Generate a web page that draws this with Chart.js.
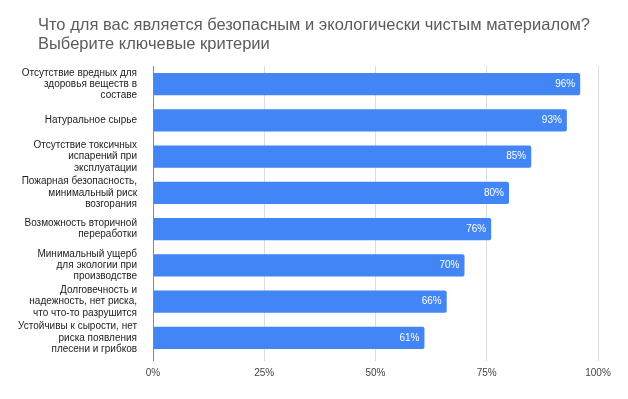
<!DOCTYPE html>
<html>
<head>
<meta charset="utf-8">
<script src="https://cdn.jsdelivr.net/npm/chart.js@4/dist/chart.umd.min.js"></script>
<style>
  html, body { margin: 0; padding: 0; background: #fff; }
  #wrap { width: 628px; height: 399px; }
</style>
</head>
<body>
<div id="wrap"><canvas id="chart"></canvas></div>
<script>
const titleLines = [
  'Что для вас является безопасным и экологически чистым материалом?',
  'Выберите ключевые критерии'
];
const categories = [
  ['Отсутствие вредных для', 'здоровья веществ в', 'составе'],
  ['Натуральное сырье'],
  ['Отсутствие токсичных', 'испарений при', 'эксплуатации'],
  ['Пожарная безопасность,', 'минимальный риск', 'возгорания'],
  ['Возможность вторичной', 'переработки'],
  ['Минимальный ущерб', 'для экологии при', 'производстве'],
  ['Долговечность и', 'надежность, нет риска,', 'что что-то разрушится'],
  ['Устойчивы к сырости, нет', 'риска появления', 'плесени и грибков']
];
const values = [96, 93, 85, 80, 76, 70, 66, 61];
const xTicks = [0, 25, 50, 75, 100];

const FONT = 'Arial, "Liberation Sans", sans-serif';

// title drawn at a fixed left inset, independent of the axis padding
const leftTitle = {
  id: 'leftTitle',
  afterDraw(chart) {
    const ctx = chart.ctx;
    ctx.save();
    ctx.font = '16.5px ' + FONT;
    ctx.fillStyle = '#5b5b5b';
    ctx.textAlign = 'left';
    ctx.textBaseline = 'alphabetic';
    titleLines.forEach((line, i) => ctx.fillText(line, 38, 30 + i * 18.5));
    ctx.restore();
  }
};

// value labels inside the bar end
const barLabels = {
  id: 'barLabels',
  afterDatasetsDraw(chart) {
    const ctx = chart.ctx;
    const meta = chart.getDatasetMeta(0);
    ctx.save();
    ctx.font = '10px ' + FONT;
    ctx.fillStyle = '#ffffff';
    ctx.textAlign = 'right';
    ctx.textBaseline = 'middle';
    meta.data.forEach((bar, i) => {
      ctx.fillText(values[i] + '%', bar.x - 5, bar.y);
    });
    ctx.restore();
  }
};

new Chart(document.getElementById('chart'), {
  type: 'bar',
  data: {
    labels: categories,
    datasets: [{
      data: values,
      backgroundColor: '#4285f4',
      borderRadius: 2,
      borderSkipped: 'start',
      barPercentage: 0.61,
      categoryPercentage: 1
    }]
  },
  options: {
    indexAxis: 'y',
    responsive: true,
    maintainAspectRatio: false,
    animation: false,
    layout: { padding: { left: 10, right: 30, top: 66, bottom: 14 } },
    plugins: {
      legend: { display: false },
      tooltip: { enabled: false },
      title: { display: false }
    },
    scales: {
      x: {
        min: 0,
        max: 100,
        afterBuildTicks(scale) {
          scale.ticks = xTicks.map(v => ({ value: v }));
        },
        ticks: {
          callback: v => v + '%',
          color: '#444',
          font: { family: FONT, size: 10 },
          padding: 6,
          maxRotation: 0
        },
        grid: {
          color: ctx => ctx.tick && ctx.tick.value === 0 ? '#8a8a8a' : '#dddddd',
          lineWidth: 1,
          drawTicks: true,
          tickLength: 5
        },
        border: { display: false }
      },
      y: {
        afterFit(scale) { scale.width = 143; },
        ticks: {
          color: '#222',
          font: { family: FONT, size: 10, lineHeight: 1.12 },
          padding: 8,
          autoSkip: false
        },
        grid: { display: false },
        border: { display: false }
      }
    }
  },
  plugins: [barLabels, leftTitle]
});
</script>
</body>
</html>
